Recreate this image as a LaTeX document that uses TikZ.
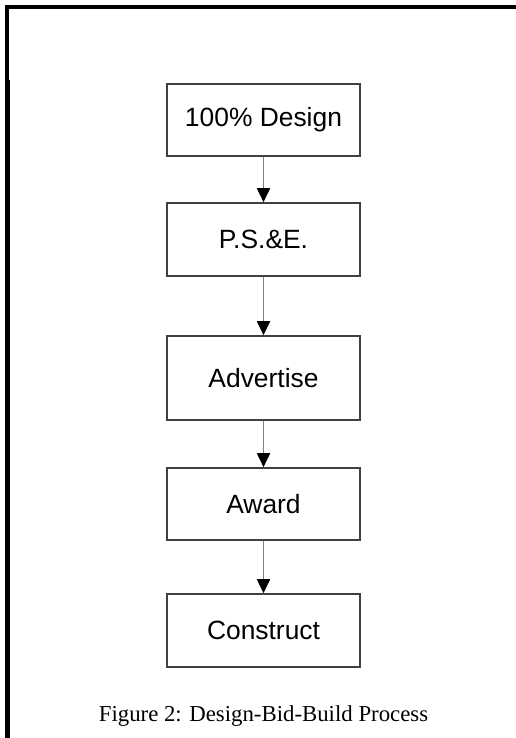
\documentclass[tikz,border=0pt]{standalone}
\usepackage{fontspec}
\setmainfont{Liberation Serif}
\newfontfamily\boxfont{Liberation Sans}
\usetikzlibrary{arrows.meta}
\begin{document}
\begin{tikzpicture}[x=1pt,y=-1pt]
  \pgfmathsetmacro{\cx}{263.5}
  \tikzstyle{stepbox}=[draw=black!75, line width=1.6pt, fill=white, inner sep=0pt,
    minimum width=193pt, font=\boxfont\fontsize{26.4}{30}\selectfont]
  \tikzstyle{flow}=[draw=black!50, line width=1.8pt,
    -{Triangle[width=13pt,length=14pt,color=black]}]
  \useasboundingbox (0,0) rectangle (516,738);
  \fill[black] (5,5) rectangle (516,9);
  \fill[black] (5,5) rectangle (9,80);
  \fill[black] (5,80) rectangle (10,738);
  \node[stepbox, minimum height=72pt] (S1) at (\cx,120)   {100\% Design};
  \node[stepbox, minimum height=73pt] (S2) at (\cx,239.5) {P.S.\&E.};
  \node[stepbox, minimum height=84pt] (S3) at (\cx,378)   {Advertise};
  \node[stepbox, minimum height=72pt] (S4) at (\cx,504)   {Award};
  \node[stepbox, minimum height=73pt] (S5) at (\cx,630.5) {Construct};
  \node[font=\fontsize{22.8}{26}\selectfont] (cap) at (\cx,716) {Figure 2: Design-Bid-Build Process};
  \draw[flow] (S1) -- (S2);
  \draw[flow] (S2) -- (S3);
  \draw[flow] (S3) -- (S4);
  \draw[flow] (S4) -- (S5);
\end{tikzpicture}
\end{document}
